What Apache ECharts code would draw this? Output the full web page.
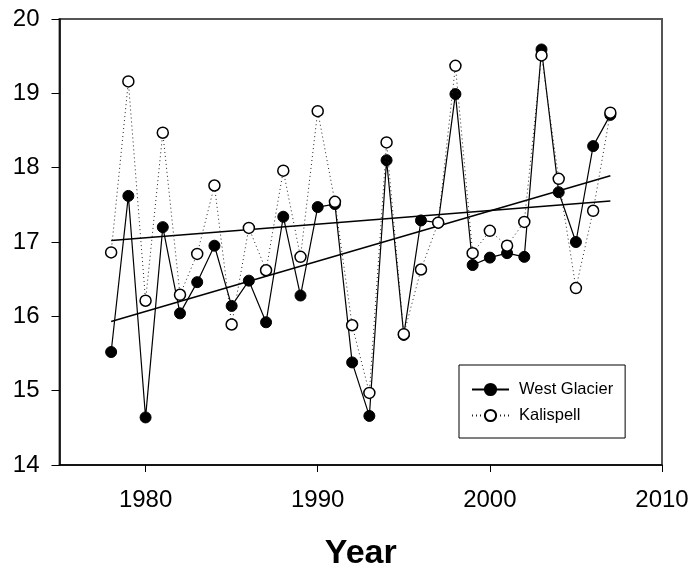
<!DOCTYPE html>
<html>
<head>
<meta charset="utf-8">
<title>West Glacier vs Kalispell</title>
<script src="https://cdn.jsdelivr.net/npm/echarts@6/dist/echarts.min.js"></script>
<style>
html, body { margin: 0; padding: 0; background: #fff; }
#chart { width: 694px; height: 569px; }
</style>
</head>
<body>
<div id="chart"></div>
<script>
// data
var years = [1978, 1979, 1980, 1981, 1982, 1983, 1984, 1985, 1986, 1987,
  1988, 1989, 1990, 1991, 1992, 1993, 1994, 1995, 1996, 1997,
  1998, 1999, 2000, 2001, 2002, 2003, 2004, 2005, 2006, 2007]
var westGlacier = [15.52, 17.62, 14.64, 17.20, 16.04, 16.46, 16.95, 16.14, 16.48, 15.92,
  17.34, 16.28, 17.47, 17.51, 15.38, 14.66, 18.10, 15.75, 17.29, 17.26,
  18.99, 16.69, 16.79, 16.85, 16.80, 19.59, 17.67, 17.00, 18.29, 18.71]
var kalispell = [16.86, 19.16, 16.21, 18.47, 16.29, 16.84, 17.76, 15.89, 17.19, 16.62,
  17.96, 16.80, 18.76, 17.54, 15.88, 14.97, 18.34, 15.76, 16.63, 17.26,
  19.37, 16.85, 17.15, 16.95, 17.27, 19.51, 17.85, 16.38, 17.42, 18.74]
// regression lines, start and end
var trendYears = [1978, 2007]
var westTrend = [15.93, 17.89]
var kaliTrend = [17.02, 17.55]
var xTicks = [1980, 1990, 2000, 2010]

function pairs (xs, ys) {
  return xs.map(function (x, i) { return [x, ys[i]] })
}

var chart = echarts.init(document.getElementById('chart'))
var font = 'Liberation Sans, Arial, sans-serif'

chart.setOption({
  animation: false,
  backgroundColor: '#fff',
  textStyle: { fontFamily: font },
  grid: {
    left: 59.5, right: 32, top: 19, bottom: 104,
    outerBoundsMode: 'none',
    show: true, borderColor: '#555', borderWidth: 2, backgroundColor: 'transparent'
  },
  legend: {
    data: ['West Glacier', 'Kalispell'],
    orient: 'vertical',
    left: 459, top: 365,
    padding: [16, 12, 14, 12],
    itemWidth: 37, itemHeight: 14, itemGap: 9,
    borderColor: '#000', borderWidth: 1,
    backgroundColor: '#fff',
    textStyle: { fontSize: 16.5, color: '#000', fontFamily: font, padding: [0, 0, 0, 5] }
  },
  xAxis: {
    type: 'value',
    min: 1975, max: 2010,
    name: 'Year',
    nameLocation: 'middle',
    nameGap: 72,
    nameTextStyle: { fontSize: 34, fontWeight: 'bold', color: '#000', fontFamily: font },
    splitLine: { show: false },
    axisLine: { onZero: false, lineStyle: { color: '#000', width: 1.5 } },
    axisTick: { customValues: xTicks, length: 7, lineStyle: { color: '#000', width: 1 } },
    axisLabel: {
      customValues: xTicks, fontSize: 24, color: '#000', margin: 23, fontFamily: font,
      formatter: function (v) { return String(v) }
    }
  },
  yAxis: {
    type: 'value',
    min: 14, max: 20, interval: 1,
    splitLine: { show: false },
    axisLine: { show: true, lineStyle: { color: '#000', width: 1.5 } },
    axisTick: { show: true, length: 8, lineStyle: { color: '#000', width: 1 } },
    axisLabel: { fontSize: 24, color: '#000', margin: 20, fontFamily: font, padding: [4, 0, 0, 0] }
  },
  series: [
    {
      name: 'west trend', type: 'line', data: pairs(trendYears, westTrend),
      showSymbol: false, silent: true, z: 1,
      lineStyle: { color: '#000', width: 1.5 }
    },
    {
      name: 'kali trend', type: 'line', data: pairs(trendYears, kaliTrend),
      showSymbol: false, silent: true, z: 1,
      lineStyle: { color: '#000', width: 1.5 }
    },
    {
      name: 'West Glacier', type: 'line', data: pairs(years, westGlacier),
      symbol: 'circle', symbolSize: 11, z: 3,
      lineStyle: { color: '#000', width: 1.2 },
      itemStyle: { color: '#000', borderColor: '#000', borderWidth: 1 }
    },
    {
      name: 'Kalispell', type: 'line', data: pairs(years, kalispell),
      symbol: 'circle', symbolSize: 11, z: 4,
      lineStyle: { color: '#222', width: 1, type: [1, 3] },
      itemStyle: { color: '#fff', borderColor: '#000', borderWidth: 1.5 }
    }
  ]
})
</script>
</body>
</html>
